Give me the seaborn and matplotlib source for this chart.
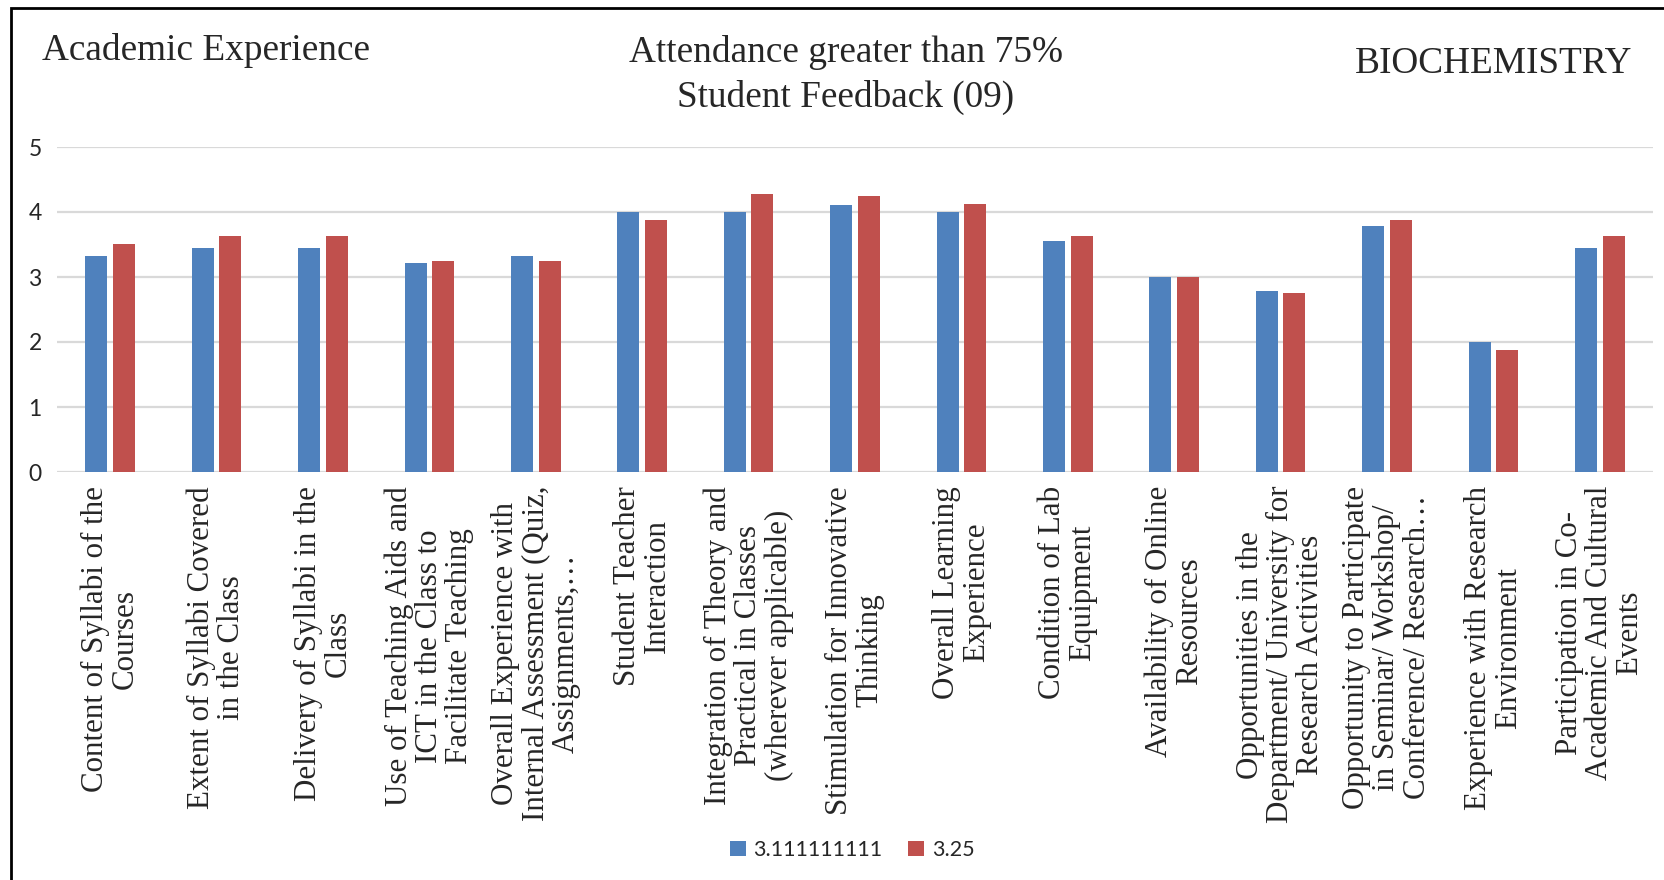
import pandas as pd
import matplotlib.pyplot as plt
import matplotlib.patches as mpatches
import seaborn as sns

# categories (line breaks as shown on the chart)
categories = [
    'Content of Syllabi of the\nCourses',
    'Extent of Syllabi Covered\nin the Class',
    'Delivery of Syllabi in the\nClass',
    'Use of Teaching Aids and\nICT in the Class to\nFacilitate Teaching',
    'Overall Experience with\nInternal Assessment (Quiz,\nAssignments,\u2026',
    'Student Teacher\nInteraction',
    'Integration of Theory and\nPractical in Classes\n(wherever applicable)',
    'Stimulation for Innovative\nThinking',
    'Overall Learning\nExperience',
    'Condition of Lab\nEquipment',
    'Availability of Online\nResources',
    'Opportunities in the\nDepartment/ University for\nResearch Activities',
    'Opportunity to Participate\nin Seminar/ Workshop/\nConference/ Research\u2026',
    'Experience with Research\nEnvironment',
    'Participation in Co-\nAcademic And Cultural\nEvents',
]

series_names = ['3.111111111', '3.25']
blue_vals = [3.33, 3.44, 3.44, 3.22, 3.33, 4.0, 4.0, 4.11, 4.0, 3.56, 3.0, 2.78, 3.78, 2.0, 3.44]
red_vals = [3.5, 3.625, 3.625, 3.25, 3.25, 3.875, 4.28, 4.25, 4.125, 3.625, 3.0, 2.75, 3.875, 1.875, 3.625]

colors = ['#4F81BD', '#C0504D']

df = pd.DataFrame({
    'Item': categories * 2,
    'Score': blue_vals + red_vals,
    'Series': [series_names[0]] * len(categories) + [series_names[1]] * len(categories),
})

sns.set_style('white')
plt.rcParams['font.family'] = ['Liberation Serif', 'DejaVu Sans']

fig = plt.figure(figsize=(16.65, 8.8), dpi=100)
ax = fig.add_axes([57 / 1665, 1 - 472 / 880, 1596 / 1665, 325 / 880])

sns.barplot(data=df, x='Item', y='Score', hue='Series', hue_order=series_names,
            palette=colors, saturation=1, width=0.52, gap=0.2, linewidth=0,
            ax=ax, legend=True)

ax.set_ylim(0, 5)
ax.set_yticks([0, 1, 2, 3, 4, 5])
ax.set_xlim(-0.5, len(categories) - 0.5)
ax.yaxis.grid(True, color='#D9D9D9', linewidth=1.6)
ax.set_axisbelow(True)
for s in ax.spines.values():
    s.set_visible(False)
ax.tick_params(axis='both', length=0)
ax.tick_params(axis='y', pad=11)
ax.set_xlabel('')
ax.set_ylabel('')

for lab in ax.get_yticklabels():
    lab.set_family('Lato')
    lab.set_fontsize(16.5)

ax.set_xticks(range(len(categories)))
ax.set_xticklabels(categories, rotation=90, ha='center', va='top',
                   multialignment='center', fontsize=22.3, linespacing=1.05)
ax.tick_params(axis='x', pad=10)

# legend at the bottom centre
handles, labels = ax.get_legend_handles_labels()
ax.legend_.remove()
fig.legend(handles, labels, loc='center', bbox_to_anchor=(852 / 1665, 1 - 850 / 880),
           ncol=2, frameon=False, prop={'family': 'Lato', 'size': 15.5},
           handlelength=0.75, handleheight=0.75, handletextpad=0.35, columnspacing=1.2)

# titles
fig.text(42 / 1665, 1 - 50 / 880, 'Academic Experience', fontsize=26.8, va='center', ha='left')
fig.text(846 / 1665, 1 - 75 / 880, 'Attendance greater than 75%\nStudent Feedback (09)',
         fontsize=26.8, va='center', ha='center', linespacing=1.35)
fig.text(1632 / 1665, 1 - 64 / 880, 'BIOCHEMISTRY', fontsize=26.8, va='center', ha='right')

# outer frame (left and top edges visible)
frame = mpatches.Rectangle((11 / 1665, -0.2), 1.5, 1.2 - 8 / 880, transform=fig.transFigure,
                           fill=False, edgecolor='black', linewidth=2, clip_on=False)
fig.add_artist(frame)

fig.savefig('out.png', dpi=100)
